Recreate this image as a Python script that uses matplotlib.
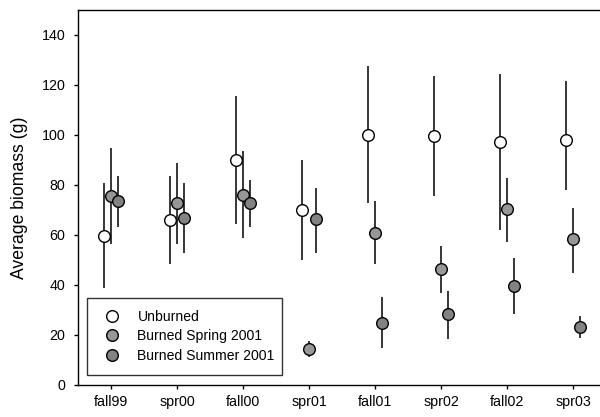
import matplotlib
matplotlib.use("Agg")
import matplotlib.pyplot as plt
import numpy as np

plt.rcParams['font.family'] = ['Liberation Sans', 'DejaVu Sans']

seasons = ["fall99", "spr00", "fall00", "spr01", "fall01", "spr02", "fall02", "spr03"]

unburned_mean = [59.8, 66.2, 90.0, 70.2, 100.2, 99.8, 97.3, 98.2]
unburned_low = [38.7, 48.4, 64.4, 50.0, 72.9, 75.6, 62.0, 78.0]
unburned_high = [81.0, 83.7, 115.6, 90.0, 127.6, 123.6, 124.4, 121.7]

spring_mean = [75.8, 72.7, 76.2, 14.6, 61.0, 46.3, 70.3, 58.3]
spring_low = [56.6, 56.4, 58.7, 11.3, 48.3, 36.7, 57.3, 45.0]
spring_high = [94.7, 88.7, 93.6, 17.5, 73.6, 55.7, 83.0, 71.0]

summer_mean = [73.8, 67.0, 72.9, 66.4, 24.9, 28.3, 39.6, 23.3]
summer_low = [63.3, 53.0, 63.3, 53.0, 14.7, 18.3, 28.4, 19.0]
summer_high = [83.7, 80.7, 82.0, 79.0, 35.3, 37.7, 50.9, 27.6]

series = [
    ("Unburned", unburned_mean, unburned_low, unburned_high, -0.1, "white"),
    ("Burned Spring 2001", spring_mean, spring_low, spring_high, 0.0, "#979797"),
    ("Burned Summer 2001", summer_mean, summer_low, summer_high, 0.1, "#828282"),
]

fig = plt.figure(figsize=(6.0, 4.17), dpi=100)
ax = fig.add_axes([78/600, 32/417, 528/600, 375/417])

x = np.arange(len(seasons))
handles = []
for i, (name, m, lo, hi, off, fc) in enumerate(series):
    m = np.array(m); lo = np.array(lo); hi = np.array(hi)
    ax.vlines(x + off, lo, hi, color='black', lw=1.1, zorder=2 + i * 0.1)
    h, = ax.plot(x + off, m, 'o', ms=8.4, mfc=fc, mec='black', mew=1.0,
                 linestyle='none', zorder=5 + i, label=name)
    handles.append(h)

ax.set_xlim(-0.5, 7.5)
ax.set_ylim(0, 150)
ax.set_xticks(x)
ax.set_xticklabels(seasons)
ax.set_yticks(np.arange(0, 141, 20))
ax.tick_params(direction='out', length=3, width=1, labelsize=10.3)
ax.tick_params(axis='y', pad=6)
ax.tick_params(axis='x', pad=4)
ax.set_ylabel("Average biomass (g)", fontsize=12.7, labelpad=10)
for s in ax.spines.values():
    s.set_linewidth(1.0)

leg = ax.legend(handles=handles, loc='lower left',
                bbox_to_anchor=(0.017, 0.027, 0.369, 0.208), mode='expand',
                borderaxespad=0, fontsize=10.1, frameon=True, fancybox=False,
                edgecolor='black', handlelength=1.8, handletextpad=0.95,
                labelspacing=0.4, borderpad=0.85, numpoints=1)
leg.get_frame().set_linewidth(1.0)

fig.savefig("out.png", dpi=100)
